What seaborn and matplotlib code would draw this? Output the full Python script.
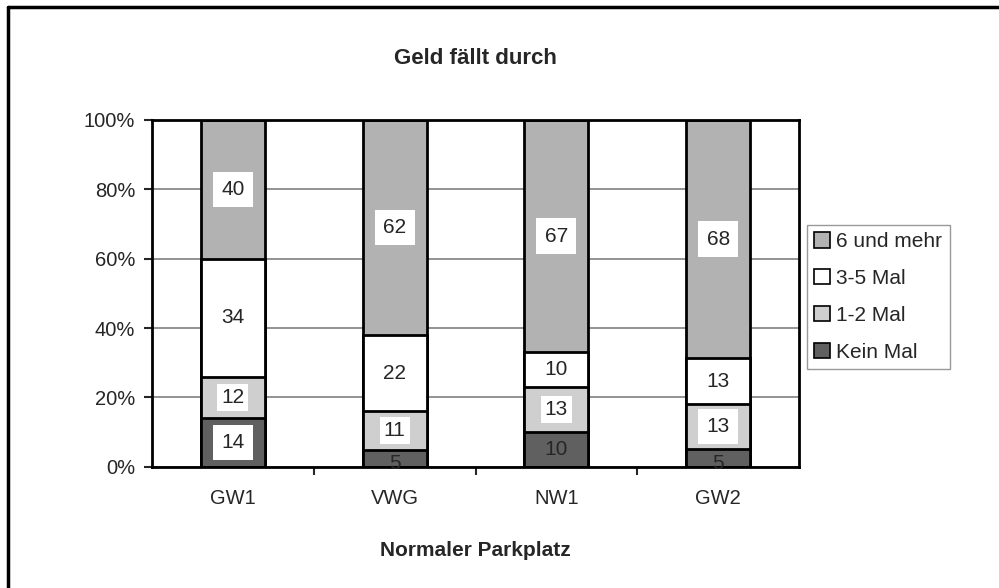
import numpy as np
import pandas as pd
import seaborn as sns
import matplotlib.pyplot as plt
from matplotlib.lines import Line2D
from matplotlib.patches import Patch

# daten
kategorien = ['GW1', 'VWG', 'NW1', 'GW2']
kein_mal = [14, 5, 10, 5]
mal_1_2 = [12, 11, 13, 13]
mal_3_5 = [34, 22, 10, 13]
mehr_6 = [40, 62, 67, 68]

serien = ['Kein Mal', '1-2 Mal', '3-5 Mal', '6 und mehr']
werte = [kein_mal, mal_1_2, mal_3_5, mehr_6]
farben = ['#606060', '#cfcfcf', '#ffffff', '#b2b2b2']

sns.set_style('white')
plt.rcParams['font.family'] = ['Liberation Sans', 'DejaVu Sans']

w = np.array(werte, dtype=float)
prozent = w / w.sum(axis=0) * 100
kumuliert = np.cumsum(prozent, axis=0)

fig = plt.figure(figsize=(9.99, 5.88), dpi=100)
ax = fig.add_axes([0.152, 0.206, 0.648, 0.590])

# gestapelte balken: von oben nach unten zeichnen
for i in range(len(serien) - 1, -1, -1):
    df = pd.DataFrame({'kat': kategorien, 'wert': kumuliert[i]})
    sns.barplot(data=df, x='kat', y='wert', color=farben[i], width=0.395,
                edgecolor='black', linewidth=2, saturation=1, ax=ax, zorder=2)

# beschriftungen
for j in range(len(kategorien)):
    for i in range(len(serien)):
        mitte = kumuliert[i, j] - prozent[i, j] / 2
        box = None
        if not (i == 0 and werte[i][j] <= 10):
            pad = 6 if prozent[i, j] > 13 else 3
            box = dict(facecolor='white', edgecolor='none', pad=pad)
        if i == 0 and werte[i][j] < 10:
            mitte = 1.0
        ax.text(j, mitte, str(werte[i][j]), ha='center', va='center',
                fontsize=15, bbox=box, zorder=5)

ax.set_xlim(-0.5, 3.5)
ax.set_ylim(0, 100)
ax.set_yticks([0, 20, 40, 60, 80, 100])
ax.set_yticklabels(['0%', '20%', '40%', '60%', '80%', '100%'], fontsize=14.5)
ax.set_xticks(range(4))
ax.set_xticklabels(kategorien, fontsize=14.5)
ax.set_xticks([0.5, 1.5, 2.5], minor=True)
ax.tick_params(axis='x', which='major', length=0, pad=16)
ax.tick_params(axis='x', which='minor', length=6, width=1.5, direction='out', bottom=True)
ax.tick_params(axis='y', length=6, width=1.5, direction='out', left=True, pad=6)
ax.yaxis.grid(True, color='#808080', linewidth=1.2, zorder=0)
ax.set_axisbelow(True)
for s in ax.spines.values():
    s.set_color('black')
    s.set_linewidth(2)

ax.set_xlabel('Normaler Parkplatz', fontsize=15, fontweight='bold', labelpad=24)
ax.set_ylabel('')
ax.set_title('Geld fällt durch', fontsize=16, fontweight='bold', pad=40)

# legende
griffe = [Patch(facecolor=farben[i], edgecolor='black', linewidth=1.2) for i in [3, 2, 1, 0]]
namen = [serien[i] for i in [3, 2, 1, 0]]
fig.legend(griffe, namen, loc='center left', bbox_to_anchor=(0.808, 0.495),
           fontsize=15, frameon=True, fancybox=False, edgecolor='#808080',
           handlelength=0.75, handleheight=0.75, handletextpad=0.3,
           labelspacing=0.85, borderpad=0.35, borderaxespad=0)

# rahmen oben und links
fig.add_artist(Line2D([0.008, 0.008], [0.0, 0.988], color='black', linewidth=2.5, transform=fig.transFigure))
fig.add_artist(Line2D([0.008, 1.0], [0.988, 0.988], color='black', linewidth=2.5, transform=fig.transFigure))

plt.savefig('out.png', dpi=100)
